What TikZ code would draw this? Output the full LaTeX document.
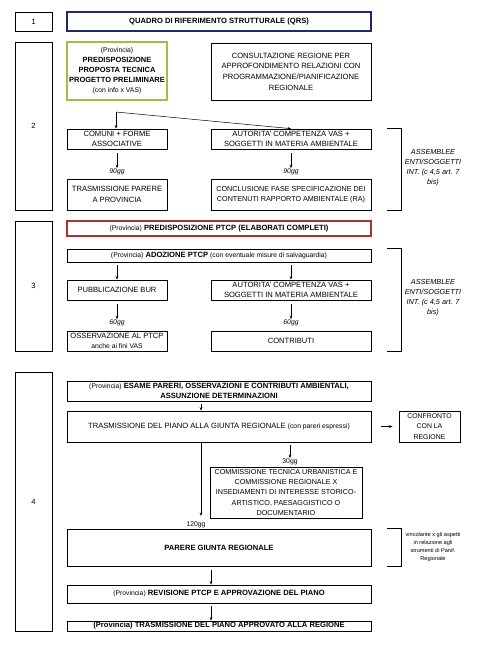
\documentclass[tikz,border=0pt]{standalone}
\usepackage{fontspec}
\setmainfont{Liberation Sans}
\usetikzlibrary{arrows.meta}
\newcommand{\fsz}{\fontsize{7.6}{10.3}\selectfont}
\newcommand{\ssz}{\fontsize{6.8}{10.3}\selectfont}
\newcommand{\isz}{\fontsize{6.8}{10}\selectfont\itshape}
\newcommand{\usz}{\fontsize{6.8}{10}\selectfont}
\newcommand{\sdsz}{\fontsize{7.3}{10}\selectfont\itshape}
\newcommand{\tsz}{\fontsize{5.6}{7.7}\selectfont}
\definecolor{navyc}{RGB}{32,40,112}
\definecolor{ogreen}{RGB}{160,190,70}
\definecolor{dred}{RGB}{172,50,50}
\begin{document}
\begin{tikzpicture}[x=1pt,y=-1pt,
  box/.style={draw, line width=0.7pt, inner sep=0.5pt, align=center, font=\fsz},
  arr/.style={-{Stealth[length=3.5pt,width=2.6pt]}, line width=0.5pt},
  lab/.style={font=\isz, inner sep=0.5pt},
  labu/.style={font=\usz, inner sep=0.5pt},
  side/.style={font=\sdsz, align=center, inner sep=0pt},
  brk/.style={line width=0.7pt}]
\useasboundingbox (0,0) rectangle (493,663);
\fill[white] (0,0) rectangle (493,663);

% section 1
\node[box, minimum width=37pt, minimum height=19pt] (n1) at (33.5,21.5) {1};
\node[box, draw=navyc, line width=1.4pt, minimum width=304pt, minimum height=19pt] (qrs) at (219,21.5) {\textbf{QUADRO DI RIFERIMENTO STRUTTURALE (QRS)}};

% section 2
\node[box, minimum width=37pt, minimum height=168pt] (n2) at (33.5,126) {2};
\node[box, draw=ogreen, line width=1.6pt, minimum width=100pt, minimum height=58pt, font=\fontsize{7.5}{10}\selectfont] (prov) at (117,71) {{\ssz (Provincia)}\\ \textbf{PREDISPOSIZIONE}\\ \textbf{PROPOSTA TECNICA}\\ \textbf{PROGETTO PRELIMINARE}\\ {\ssz (con info x VAS)}};
\node[box, minimum width=160pt, minimum height=57pt, font=\fontsize{7.6}{10.7}\selectfont] (cons) at (291,71.5) {CONSULTAZIONE REGIONE PER\\APPROFONDIMENTO RELAZIONI CON\\PROGRAMMAZIONE/PIANIFICAZIONE\\REGIONALE};
\node[box, minimum width=100pt, minimum height=20pt] (comuni) at (117,139) {COMUNI + FORME\\ASSOCIATIVE};
\node[box, minimum width=160pt, minimum height=20pt] (aut1) at (291,139) {AUTORITA' COMPETENZA VAS +\\SOGGETTI IN MATERIA AMBIENTALE};
\node[box, minimum width=100pt, minimum height=31pt] (tras1) at (117,194.5) {TRASMISSIONE PARERE\\A PROVINCIA};
\node[box, minimum width=160pt, minimum height=31pt, font=\fontsize{7.2}{10.3}\selectfont] (concl) at (291,194.5) {CONCLUSIONE FASE SPECIFICAZIONE DEI\\CONTENUTI RAPPORTO AMBIENTALE (RA)};
\coordinate (split) at (116,112);
\draw[arr] (split) -- (comuni.north -| split);
\draw[arr] (split) -- (aut1.north);
\node[lab] (g1) at (117,172) {90gg};
\node[lab] (g2) at (291,172) {90gg};
\draw[arr, shorten <=4pt] (comuni.south) -- (g1.north);
\draw[arr, shorten <=4pt] (aut1.south) -- (g2.north);
\draw[brk] ([xshift=16pt]aut1.north east) -- ++(14,0) |- ([xshift=16pt]concl.south east);
\node[side] (ass1) at (433,168) {ASSEMBLEE\\ENTI/SOGGETTI\\INT. (c 4,5 art. 7\\bis)};

% section 3
\node[box, minimum width=37pt, minimum height=130pt] (n3) at (33.5,286) {3};
\node[box, draw=dred, line width=1.6pt, minimum width=304pt, minimum height=15pt] (red) at (219,228.5) {{\ssz (Provincia)} \textbf{PREDISPOSIZIONE PTCP (ELABORATI COMPLETI)}};
\node[box, minimum width=304pt, minimum height=13pt] (adoz) at (219,255.5) {{\ssz (Provincia)} \textbf{ADOZIONE PTCP} {\ssz (con eventuale misure di salvaguardia)}};
\node[box, minimum width=100pt, minimum height=20pt] (pubb) at (117,290) {PUBBLICAZIONE BUR};
\node[box, minimum width=160pt, minimum height=20pt] (aut2) at (291,290) {AUTORITA' COMPETENZA VAS +\\SOGGETTI IN MATERIA AMBIENTALE};
\node[box, minimum width=100pt, minimum height=20pt] (oss) at (117,341) {OSSERVAZIONE AL PTCP\\{\ssz anche ai fini VAS}};
\node[box, minimum width=160pt, minimum height=20pt] (contr) at (291,341) {CONTRIBUTI};
\draw[arr, shorten <=3pt] (adoz.south -| pubb.north) -- (pubb.north);
\draw[arr, shorten <=3pt] (adoz.south -| aut2.north) -- (aut2.north);
\node[lab] (g3) at (117,323) {60gg};
\node[lab] (g4) at (291,323) {60gg};
\draw[arr, shorten <=4pt] (pubb.south) -- (g3.north);
\draw[arr, shorten <=4pt] (aut2.south) -- (g4.north);
\draw[brk] ([xshift=16pt]adoz.north east) -- ++(14,0) |- ([xshift=16pt]contr.south east);
\node[side] (ass2) at (433,298) {ASSEMBLEE\\ENTI/SOGGETTI\\INT. (c 4,5 art. 7\\bis)};

% section 4
\node[box, minimum width=37pt, minimum height=259pt] (n4) at (33.5,501.5) {4};
\node[box, minimum width=304pt, minimum height=20pt, font=\fontsize{7.6}{9.5}\selectfont] (esame) at (219,391) {{\ssz (Provincia)} \textbf{ESAME PARERI, OSSERVAZIONI E CONTRIBUTI AMBIENTALI,}\\\textbf{ASSUNZIONE DETERMINAZIONI}};
\node[box, minimum width=304pt, minimum height=31pt] (tras2) at (219,426.5) {TRASMISSIONE DEL PIANO ALLA GIUNTA REGIONALE {\ssz (con pareri espressi)}};
\node[box, minimum width=61pt, minimum height=31pt, font=\fontsize{6.9}{10.3}\selectfont] (confr) at (429.5,426.5) {CONFRONTO\\CON LA\\REGIONE};
\node[box, minimum width=152pt, minimum height=51pt, font=\fontsize{7.2}{10.4}\selectfont] (comm) at (286,492.5) {COMMISSIONE TECNICA URBANISTICA E\\COMMISSIONE REGIONALE X\\INSEDIAMENTI DI INTERESSE STORICO-\\ARTISTICO, PAESAGGISTICO O\\DOCUMENTARIO};
\node[box, minimum width=304pt, minimum height=37pt] (parere) at (219,547.5) {\textbf{PARERE GIUNTA REGIONALE}};
\node[box, minimum width=304pt, minimum height=18pt] (rev) at (219,594) {{\ssz (Provincia)} \textbf{REVISIONE PTCP E APPROVAZIONE DEL PIANO}};
\node[box, minimum width=304pt, minimum height=10pt, inner sep=0pt] (trfin) at (219,626) {\textbf{(Provincia) TRASMISSIONE DEL PIANO APPROVATO ALLA REGIONE}};
\coordinate (c4) at (201,406);
\draw[arr, shorten <=3pt] (esame.south -| c4) -- (tras2.north -| c4);
\node[labu] (g30) at (290,462) {30gg};
\draw[arr, shorten <=3pt] (tras2.south -| g30) -- (g30.north);
\node[labu] (g120) at (196,525) {120gg};
\coordinate (c5) at (201,516);
\draw[arr] (tras2.south -| c5) -- (c5);
\draw[arr, shorten <=10pt, shorten >=6pt] (tras2.east) -- (confr.west);
\coordinate (c6) at (211,580);
\draw[arr, shorten <=4pt] (parere.south -| c6) -- (rev.north -| c6);
\draw[arr, shorten <=3pt] (rev.south -| c6) -- (trfin.north -| c6);
\draw[brk] ([xshift=16pt]parere.north east) -- ++(14,0) |- ([xshift=16pt]parere.south east);
\node[font=\tsz, align=center, inner sep=0pt] (vinc) at (433,547) {vincolante x gli aspetti\\in relazione agli\\strumenti di Panif.\\Regionale};
\end{tikzpicture}
\end{document}
